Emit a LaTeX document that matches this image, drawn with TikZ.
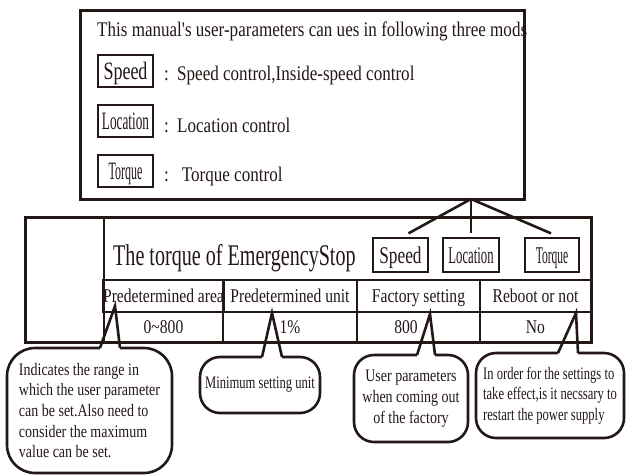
\documentclass[tikz,border=0pt]{standalone}
\usepackage{fontspec}
\setmainfont{Liberation Serif}
\newfontfamily\cndBody[FakeStretch=0.82]{Liberation Serif}
\newfontfamily\cndTitle[FakeStretch=0.67]{Liberation Serif}
\newfontfamily\cndHead[FakeStretch=0.8]{Liberation Serif}
\newfontfamily\cndNote[FakeStretch=0.8]{Liberation Serif}
\newfontfamily\cndTight[FakeStretch=0.72]{Liberation Serif}
\newfontfamily\cndLoc[FakeStretch=0.53]{Liberation Serif}
\newfontfamily\cndTrq[FakeStretch=0.48]{Liberation Serif}
\newcommand{\setfs}[2]{\fontsize{#1}{#2}\selectfont}
\usepackage{tikz}
\usetikzlibrary{positioning,calc}
\definecolor{ink}{HTML}{231815}

\begin{document}
\begin{tikzpicture}[x=1pt, y=-1pt,
  every node/.style={text=ink, inner sep=0pt},
  frame/.style={draw=ink, line width=3pt},
  cell/.style={draw=ink, line width=2.4pt},
  modebox/.style={draw=ink, line width=1.3pt, minimum width=55pt, text height=16.5pt, text depth=0pt},
  link/.style={draw=ink, line width=2.6pt},
  opening/.style={draw=white, line width=3.6pt},
  note/.style={draw=ink, line width=2.6pt, outer sep=0pt, rounded corners=20pt, font=\cndNote\setfs{17.5}{20.7}},
  body/.style={font=\cndBody\setfs{20.8}{24}, anchor=base west},
  head/.style={font=\cndHead\setfs{19.5}{22}, text height=12.7pt, text depth=0pt}]
\useasboundingbox (0,0) rectangle (626,475);

% the three modes
\node[body] (intro) at (97,36.7) {This manual's user-parameters can ues in following three mods};
\node[frame, minimum width=444pt, minimum height=189pt] (modes) at (302,104.5) {};
\node[modebox, minimum height=32pt] (uspeed) at (125.5,71) {\cndTight\setfs{25}{28}Speed};
\node[modebox, minimum height=32pt] (uloc) at (125.5,121) {\cndLoc\setfs{25}{28}Location};
\node[modebox, minimum height=32pt] (utrq) at (125.5,171) {\cndTrq\setfs{25}{28}Torque};
\node[body] (kspeed) at (164,80) {:};
\node[body] (dspeed) at (177,80) {Speed control,Inside-speed control};
\node[body] (kloc) at (164,132.7) {:};
\node[body] (dloc) at (177,132.7) {Location control};
\node[body] (ktrq) at (164,181.7) {:};
\node[body] (dtrq) at (181.7,181.7) {Torque control};

% parameter table
\node[cell, minimum width=79pt, minimum height=125pt] (blank) at (64.5,279.5) {};
\node[cell, minimum width=487pt, minimum height=63pt] (ttl) at (347.5,248.5) {};
\node[font=\cndTitle\setfs{30}{32}, anchor=base west] (ttltext) at (113,265) {The torque of EmergencyStop};
\node[modebox, minimum height=34pt] (tspeed) at (400.5,255) {\cndTight\setfs{24}{27}Speed};
\node[modebox, minimum height=34pt, minimum width=56pt] (tloc) at (471,255) {\cndLoc\setfs{24}{27}Location};
\node[modebox, minimum height=34pt, minimum width=54pt] (ttrq) at (552,255) {\cndTrq\setfs{24}{27}Torque};

\node[cell, head, minimum width=119pt, minimum height=32pt] (hA) at (163.5,296) {Predetermined area};
\node[cell, head, minimum width=134pt, minimum height=32pt] (hB) at (290,296) {Predetermined unit};
\node[cell, head, minimum width=123pt, minimum height=32pt] (hC) at (418.5,296) {Factory setting};
\node[cell, head, minimum width=111pt, minimum height=32pt] (hD) at (535.5,296) {Reboot or not};
\node[cell, head, minimum width=119pt, minimum height=30pt] (vA) at (163.5,327) {0\textasciitilde800};
\node[cell, head, minimum width=134pt, minimum height=30pt] (vB) at (290,327) {1\%};
\node[cell, head, minimum width=123pt, minimum height=30pt] (vC) at (418.5,327) {};
\node[head] (vCtext) at (406,327) {800};
\node[cell, head, minimum width=111pt, minimum height=30pt] (vD) at (535.5,327) {No};
\node[frame, minimum width=566pt, minimum height=125pt] (tbl) at (308,279.5) {};

% modes to the table
\coordinate (apex) at (471,199);
\draw[link] (apex) -- ($(tspeed.north)+(8,-4)$);
\draw[link] (apex) -- ($(tloc.north)+(0,-4)$);
\draw[link] (apex) -- ($(ttrq.north)+(-1,-4)$);

% notes
\node[note, rounded corners=28pt, minimum width=165pt, minimum height=125pt, align=left] (nA) at (89.5,410.5)
  {Indicates the range in\\which the user parameter\\can be set.Also need to\\consider the maximum\\value can be set.};
\node[note, minimum width=120pt, minimum height=56pt, font=\cndTight\setfs{17.5}{20.7}] (nB) at (260,385) {Minimum setting unit};
\node[note, minimum width=114pt, minimum height=87pt, align=center] (nC) at (411,398.5)
  {User parameters\\when coming out\\of the factory};
\node[note, minimum width=148pt, minimum height=85pt, align=left, font=\cndTight\setfs{17.5}{20.7}] (nD) at (550,395.5)
  {In order for the settings to\\take effect,is it necssary to\\restart the power supply};

\coordinate (tipA) at (115,306);
\coordinate (tipB) at (272,313);
\coordinate (tipC) at (430,314);
\coordinate (tipD) at (576,313);
\draw[opening] ($(nA.north)+(10.5,0)$) -- ($(nA.north)+(30.5,0)$);
\draw[link] ($(nA.north)+(10.5,0)$) -- (tipA) -- ($(nA.north)+(30.5,0)$);
\draw[opening] ($(nB.north)+(2,0)$) -- ($(nB.north)+(22,0)$);
\draw[link] ($(nB.north)+(2,0)$) -- (tipB) -- ($(nB.north)+(22,0)$);
\draw[opening] ($(nC.north)+(6,0)$) -- ($(nC.north)+(24,0)$);
\draw[link] ($(nC.north)+(6,0)$) -- (tipC) -- ($(nC.north)+(24,0)$);
\draw[opening] ($(nD.north)+(8,0)$) -- ($(nD.north)+(28,0)$);
\draw[link] ($(nD.north)+(8,0)$) -- (tipD) -- ($(nD.north)+(28,0)$);
\end{tikzpicture}
\end{document}
